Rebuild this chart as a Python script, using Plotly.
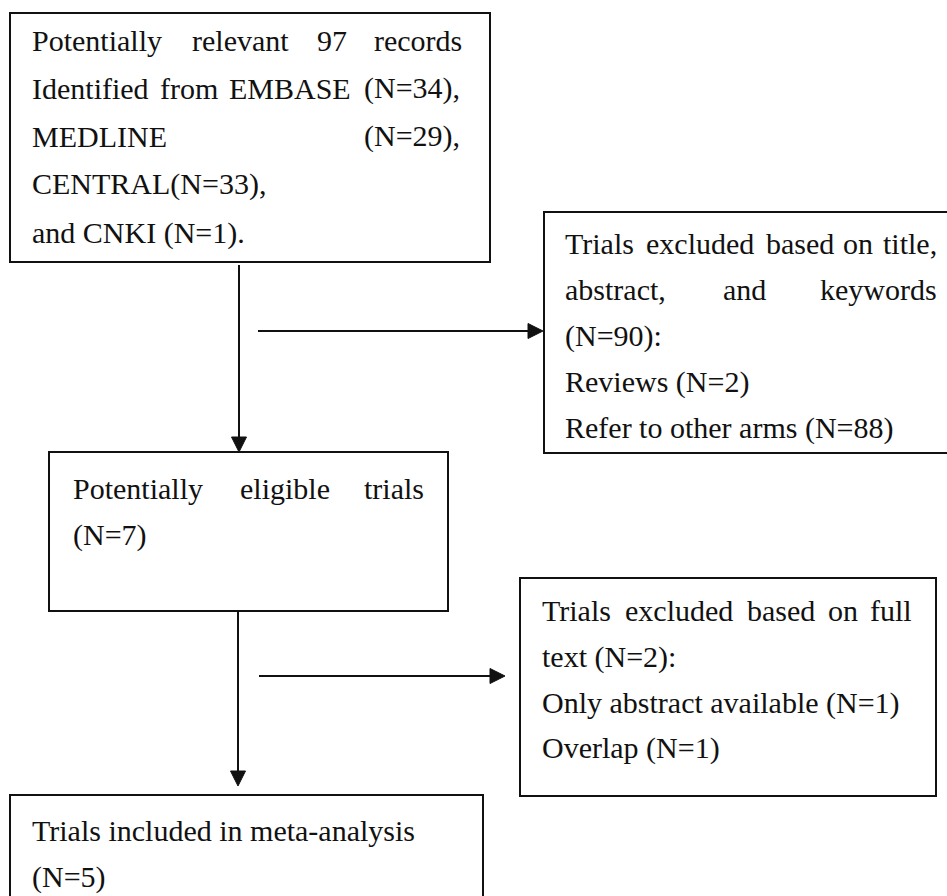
import plotly.graph_objects as go

# ---------------- data ----------------
n_total = 97
src_names = ["EMBASE", "MEDLINE", "CENTRAL", "CNKI"]
src_n = [34, 29, 33, 1]
excl1_total = 90
excl1_reasons = ["Reviews", "Refer to other arms"]
excl1_n = [2, 88]
eligible_n = 7
excl2_total = 2
excl2_reasons = ["Only abstract available", "Overlap"]
excl2_n = [1, 1]
included_n = 5

# ---------------- layout constants ----------------
W, H = 947, 896
FONT = "Liberation Serif"
FS = 30
INK = "#111111"

fig = go.Figure()
fig.add_trace(go.Scatter(x=[0], y=[0], mode="markers", marker=dict(opacity=0), hoverinfo="skip"))

def box(x0, y0, x1, y1):
    fig.add_shape(type="rect", x0=x0, y0=y0, x1=x1, y1=y1, xref="x", yref="y",
                  line=dict(color=INK, width=2), fillcolor="rgba(0,0,0,0)")

def vline_arrow(x, y0, y1, head=15, hw=7.5):
    fig.add_shape(type="line", x0=x, y0=y0, x1=x, y1=y1 - head + 2, xref="x", yref="y",
                  line=dict(color=INK, width=2))
    fig.add_shape(type="path", path=f"M {x-hw},{y1-head} L {x+hw},{y1-head} L {x},{y1} Z",
                  xref="x", yref="y", fillcolor=INK, line=dict(color=INK, width=1))

def hline_arrow(y, x0, x1, head=15, hw=7.5):
    fig.add_shape(type="line", x0=x0, y0=y, x1=x1 - head + 2, y1=y, xref="x", yref="y",
                  line=dict(color=INK, width=2))
    fig.add_shape(type="path", path=f"M {x1-head},{y-hw} L {x1-head},{y+hw} L {x1},{y} Z",
                  xref="x", yref="y", fillcolor=INK, line=dict(color=INK, width=1))

def txt(s, x, y, anchor="left"):
    fig.add_annotation(text=s, x=x, y=y, xref="x", yref="y", xanchor=anchor, yanchor="middle",
                       showarrow=False, font=dict(family=FONT, size=FS, color=INK))

def justified(words, y, xl, xr, centers):
    txt(words[0], xl, y, "left")
    for w, c in zip(words[1:-1], centers):
        txt(w, c, y, "center")
    txt(words[-1], xr, y, "right")

# ---------------- boxes ----------------
box(10, 13, 490, 262)
box(544, 212, 965, 453)
box(49, 452, 448, 611)
box(520, 578, 936, 796)
box(10, 795, 483, 915)

# ---------------- arrows ----------------
vline_arrow(239, 265, 452)
hline_arrow(331, 258, 543)
vline_arrow(238, 611, 786)
hline_arrow(676, 259, 505)

# ---------------- box 1 ----------------
justified(["Potentially", "relevant", str(n_total), "records"], 40, 30, 464, [240, 332])
justified(["Identified", "from", f"{src_names[0]}", f"(N={src_n[0]}),"], 88, 30, 462, [189, 290])
justified([src_names[1], f"(N={src_n[1]}),"], 136, 30, 462, [])
txt(f"{src_names[2]}(N={src_n[2]}),", 30, 184)
txt(f"and {src_names[3]} (N={src_n[3]}).", 30, 233)

# ---------------- box 2 ----------------
justified(["Trials", "excluded", "based", "on", "title,"], 243, 563, 939, [700, 800, 858])
justified(["abstract,", "and", "keywords"], 289, 563, 939, [744])
txt(f"(N={excl1_total}):", 563, 336)
txt(f"{excl1_reasons[0]} (N={excl1_n[0]})", 563, 382)
txt(f"{excl1_reasons[1]} (N={excl1_n[1]})", 563, 428)

# ---------------- box 3 ----------------
justified(["Potentially", "eligible", "trials"], 488, 71, 426, [285])
txt(f"(N={eligible_n})", 71, 535)

# ---------------- box 4 ----------------
justified(["Trials", "excluded", "based", "on", "full"], 610, 540, 914, [679, 781, 843])
txt(f"text (N={excl2_total}):", 540, 657)
txt(f"{excl2_reasons[0]} (N={excl2_n[0]})", 540, 703)
txt(f"{excl2_reasons[1]} (N={excl2_n[1]})", 540, 748)

# ---------------- box 5 ----------------
txt("Trials included in meta-analysis", 30, 830)
txt(f"(N={included_n})", 30, 877)

fig.update_layout(
    width=W, height=H, margin=dict(l=0, r=0, t=0, b=0),
    xaxis=dict(range=[0, W], visible=False, fixedrange=True),
    yaxis=dict(range=[H, 0], visible=False, fixedrange=True),
    plot_bgcolor="white", paper_bgcolor="white", showlegend=False,
)
fig.write_html(
    "out.html",
    config={"displayModeBar": False},
    post_script="document.body.style.margin='0px';document.body.style.overflow='hidden';",
)
